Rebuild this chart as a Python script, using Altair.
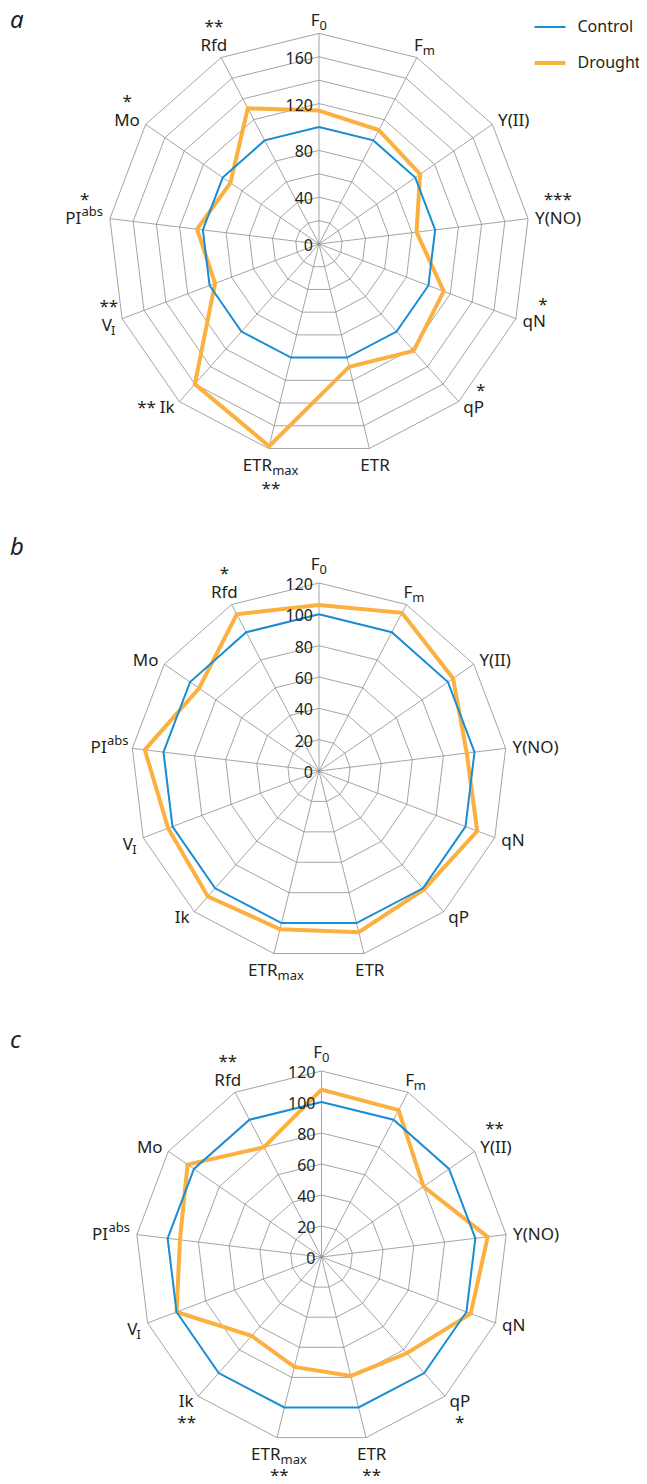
import math
import altair as alt
import pandas as pd

# ---------------- data ----------------
PARAMS = ["F0", "Fm", "Y(II)", "Y(NO)", "qN", "qP", "ETR", "ETRmax", "Ik", "VI", "PIabs", "Mo", "Rfd"]
LABEL_MAIN = ["F", "F", "Y(II)", "Y(NO)", "qN", "qP", "ETR", "ETR", "Ik", "V", "PI", "Mo", "Rfd"]
LABEL_SCRIPT = ["0", "m", "", "", "", "", "", "max", "", "I", "abs", "", ""]
SCRIPT_SUP = [False, False, False, False, False, False, False, False, False, False, True, False, False]
SERIES = ["Control", "Drought"]

CONTROL_A = [100, 100, 100, 100, 100, 100, 100, 100, 100, 100, 100, 100, 100]
DROUGHT_A = [114, 110, 105, 84, 114, 122, 108, 178, 160, 95, 105, 92, 131]
STARS_A = ["", "", "", "***", "*", "*", "", "**", "**", "**", "*", "*", "**"]

CONTROL_B = [100, 100, 100, 100, 100, 100, 100, 100, 100, 100, 100, 100, 100]
DROUGHT_B = [106, 114, 104, 95, 108, 101, 106, 104, 107, 103, 112, 93, 113]
STARS_B = ["", "", "", "", "", "", "", "", "", "", "", "", "*"]

CONTROL_C = [100, 100, 100, 100, 100, 100, 100, 100, 100, 100, 100, 100, 100]
DROUGHT_C = [108, 107, 80, 108, 103, 83, 79, 73, 68, 100, 92, 105, 80]
STARS_C = ["", "", "**", "", "", "*", "**", "**", "**", "", "", "", "**"]

TICKS_A = [0, 40, 80, 120, 160]
RINGS_A = [20, 40, 60, 80, 100, 120, 140, 160, 180]
TICKS_B = [0, 20, 40, 60, 80, 100, 120]
RINGS_B = [20, 40, 60, 80, 100, 120]
TICKS_C = [0, 20, 40, 60, 80, 100, 120]
RINGS_C = [20, 40, 60, 80, 100, 120]

# ---------------- style / layout ----------------
BLUE = "#1a8dd5"
ORANGE = "#fbb040"
GRID = "#8e8e8e"
INK = "#231f20"
FONT = "Noto Sans"
FS, SFS, TFS = 17, 13, 16
W_ALL, H_ALL = 631, 1468

W_EM = {'F': 0.501, 'E': 0.549, 'T': 0.536, 'R': 0.604, 'P': 0.586, 'I': 0.278, 'V': 0.579,
        'Y': 0.53, 'N': 0.763, 'O': 0.79, '(': 0.296, ')': 0.296, 'q': 0.613, 'k': 0.529,
        'M': 0.9, 'o': 0.602, 'f': 0.344, 'd': 0.613, 'm': 0.944, 'a': 0.573, 'x': 0.505,
        'b': 0.613, 's': 0.488, '0': 0.572, '*': 0.55}


def tw(t, fs):
    return sum(W_EM.get(c, 0.58) for c in t) * fs


ALIGN = ["center", "left", "left", "left", "left", "left", "center", "center",
         "right", "right", "right", "right", "center"]
VPOS = ["bottom", "bottom", "middle", "middle", "middle", "middle", "top", "top",
        "middle", "middle", "middle", "middle", "bottom"]
VOFF = {"bottom": 0, "middle": 6, "top": 16}
GAP = 7

PANELS = [
    dict(key="a", control=CONTROL_A, drought=DROUGHT_A, stars=STARS_A, rmax=180,
         rings=RINGS_A, ticks=TICKS_A, cx=311, cy=236, s=210.6 / 180, letter_base=20,
         starmode={3: "above", 4: "aboveright", 5: "aboveright", 7: "below", 8: "left",
                   9: "above", 10: "above", 11: "above", 12: "above"},
         nudge={1: (-6, 0), 6: (4, 0), 7: (4, 0), 9: (0, 4), 12: (-4, 0)}, below=23),
    dict(key="b", control=CONTROL_B, drought=DROUGHT_B, stars=STARS_B, rmax=120,
         rings=RINGS_B, ticks=TICKS_B, cx=311, cy=763, s=188 / 120, letter_base=547,
         starmode={12: "above"},
         nudge={0: (0, -6), 1: (-6, 0), 6: (4, 0), 7: (4, 0), 9: (0, 4), 10: (3, 0),
                12: (-4, 0)}, below=23),
    dict(key="c", control=CONTROL_C, drought=DROUGHT_C, stars=STARS_C, rmax=120,
         rings=RINGS_C, ticks=TICKS_C, cx=313.5, cy=1249, s=186 / 120, letter_base=1040,
         starmode={2: "above", 5: "below", 6: "below", 7: "below", 8: "below", 12: "above"},
         nudge={0: (0, -6), 1: (-6, 0), 6: (4, 0), 7: (4, 0), 9: (0, 4), 12: (-4, 0)}, below=21),
]

n = len(PARAMS)
TH = [2 * math.pi * i / n for i in range(n)]

ring_rows, spoke_rows, ser_rows, items = [], [], [], []

for P in PANELS:
    cx, cy, s = P["cx"], P["cy"], P["s"]

    def pos(v, i):
        return cx + v * s * math.sin(TH[i]), cy - v * s * math.cos(TH[i])

    for v in P["rings"]:
        for k in range(n + 1):
            x, y = pos(v, k % n)
            ring_rows.append(dict(panel=P["key"], ring=v, k=k, x=x, y=y))
    for i in range(n):
        x2, y2 = pos(P["rmax"], i)
        spoke_rows.append(dict(panel=P["key"], p=PARAMS[i], x=cx, y=cy, x2=x2, y2=y2))
    for name, vals in [("Drought", P["drought"]), ("Control", P["control"])]:
        for k in range(n + 1):
            x, y = pos(vals[k % n], k % n)
            ser_rows.append(dict(panel=P["key"], series=name, k=k, x=x, y=y))

    def add(t, px, py, align, size, italic=False):
        items.append(dict(t=t, x=cx + px, y=cy + py, align=align, size=size,
                          style="italic" if italic else "normal"))

    for v in P["ticks"]:
        add(str(v), -6, -v * s + 7, "right", TFS)

    for i in range(n):
        vx = P["rmax"] * s * math.sin(TH[i])
        vy = -P["rmax"] * s * math.cos(TH[i])
        ax = vx + GAP * math.sin(TH[i])
        ay = vy - GAP * math.cos(TH[i])
        nd = P["nudge"].get(i, (0, 0))
        ax += nd[0]
        by = ay + VOFF[VPOS[i]] + nd[1]
        A = ALIGN[i]
        m, sc = LABEL_MAIN[i], LABEL_SCRIPT[i]
        wm = tw(m, FS)
        wsc = tw(sc, SFS) if sc else 0
        wt = wm + wsc
        left = ax if A == "left" else (ax - wt / 2 if A == "center" else ax - wt)
        right = left + wt
        sdy = -8 if SCRIPT_SUP[i] else 4
        if not sc:
            add(m, ax, by, A, FS)
        elif A == "left":
            add(m, ax, by, "left", FS)
            add(sc, ax + wm, by + sdy, "left", SFS)
        elif A == "right":
            add(sc, ax, by + sdy, "right", SFS)
            add(m, ax - wsc, by, "right", FS)
        else:
            j = left + wm
            add(m, j, by, "right", FS)
            add(sc, j, by + sdy, "left", SFS)
        st = P["stars"][i]
        if st:
            mode = P["starmode"].get(i, "above")
            if mode == "above":
                add(st, (left + right) / 2, by - 19, "center", FS)
            elif mode == "below":
                add(st, (left + right) / 2, by + P["below"], "center", FS)
            elif mode == "left":
                add(st, left - 5, by, "right", FS)
            else:
                add(st, right - 3, by - 17, "center", FS)

    add(P["key"], -cx + 2, -cy + P["letter_base"], "left", 24, italic=True)

XS = alt.Scale(domain=[0, W_ALL], nice=False, zero=False)
YS = alt.Scale(domain=[0, H_ALL], nice=False, zero=False, reverse=True)
X = lambda f: alt.X(f, scale=XS, axis=None)
Y = lambda f: alt.Y(f, scale=YS, axis=None)

ring_layer = alt.Chart(pd.DataFrame(ring_rows)).mark_line(color=GRID, strokeWidth=0.8).encode(
    x=X("x:Q"), y=Y("y:Q"), detail=alt.Detail(["panel:N", "ring:N"]), order="k:Q")

spoke_layer = alt.Chart(pd.DataFrame(spoke_rows)).mark_rule(color=GRID, strokeWidth=0.8).encode(
    x=X("x:Q"), y=Y("y:Q"), x2="x2:Q", y2="y2:Q")

leg = alt.Legend(orient="none", legendX=524.5, legendY=2.5, title=None,
                 symbolType="stroke", symbolSize=961, labelFontSize=16,
                 labelFont=FONT, labelColor=INK, rowPadding=10, labelOffset=10, padding=0,
                 labelLimit=200)
ser_layer = alt.Chart(pd.DataFrame(ser_rows)).mark_line(strokeJoin="miter").encode(
    x=X("x:Q"), y=Y("y:Q"), order="k:Q", detail="panel:N",
    color=alt.Color("series:N", scale=alt.Scale(domain=SERIES, range=[BLUE, ORANGE]), legend=leg),
    strokeWidth=alt.StrokeWidth("series:N", scale=alt.Scale(domain=SERIES, range=[2, 4]), legend=leg),
)

tdf = pd.DataFrame(items)
text_layers = []
for (align, size, style), g in tdf.groupby(["align", "size", "style"]):
    text_layers.append(
        alt.Chart(g.reset_index(drop=True)).mark_text(
            align=align, baseline="alphabetic", font=FONT, fontSize=int(size),
            fontStyle=style, color=INK).encode(
            x=X("x:Q"), y=Y("y:Q"), text="t:N"))

chart = alt.layer(ring_layer, spoke_layer, ser_layer, *text_layers).properties(
    width=W_ALL, height=H_ALL, padding=0,
    autosize=alt.AutoSizeParams(type="none", contains="content")
).configure_view(stroke=None)

chart.save("out.html", embed_options={"renderer": "svg", "actions": False})
